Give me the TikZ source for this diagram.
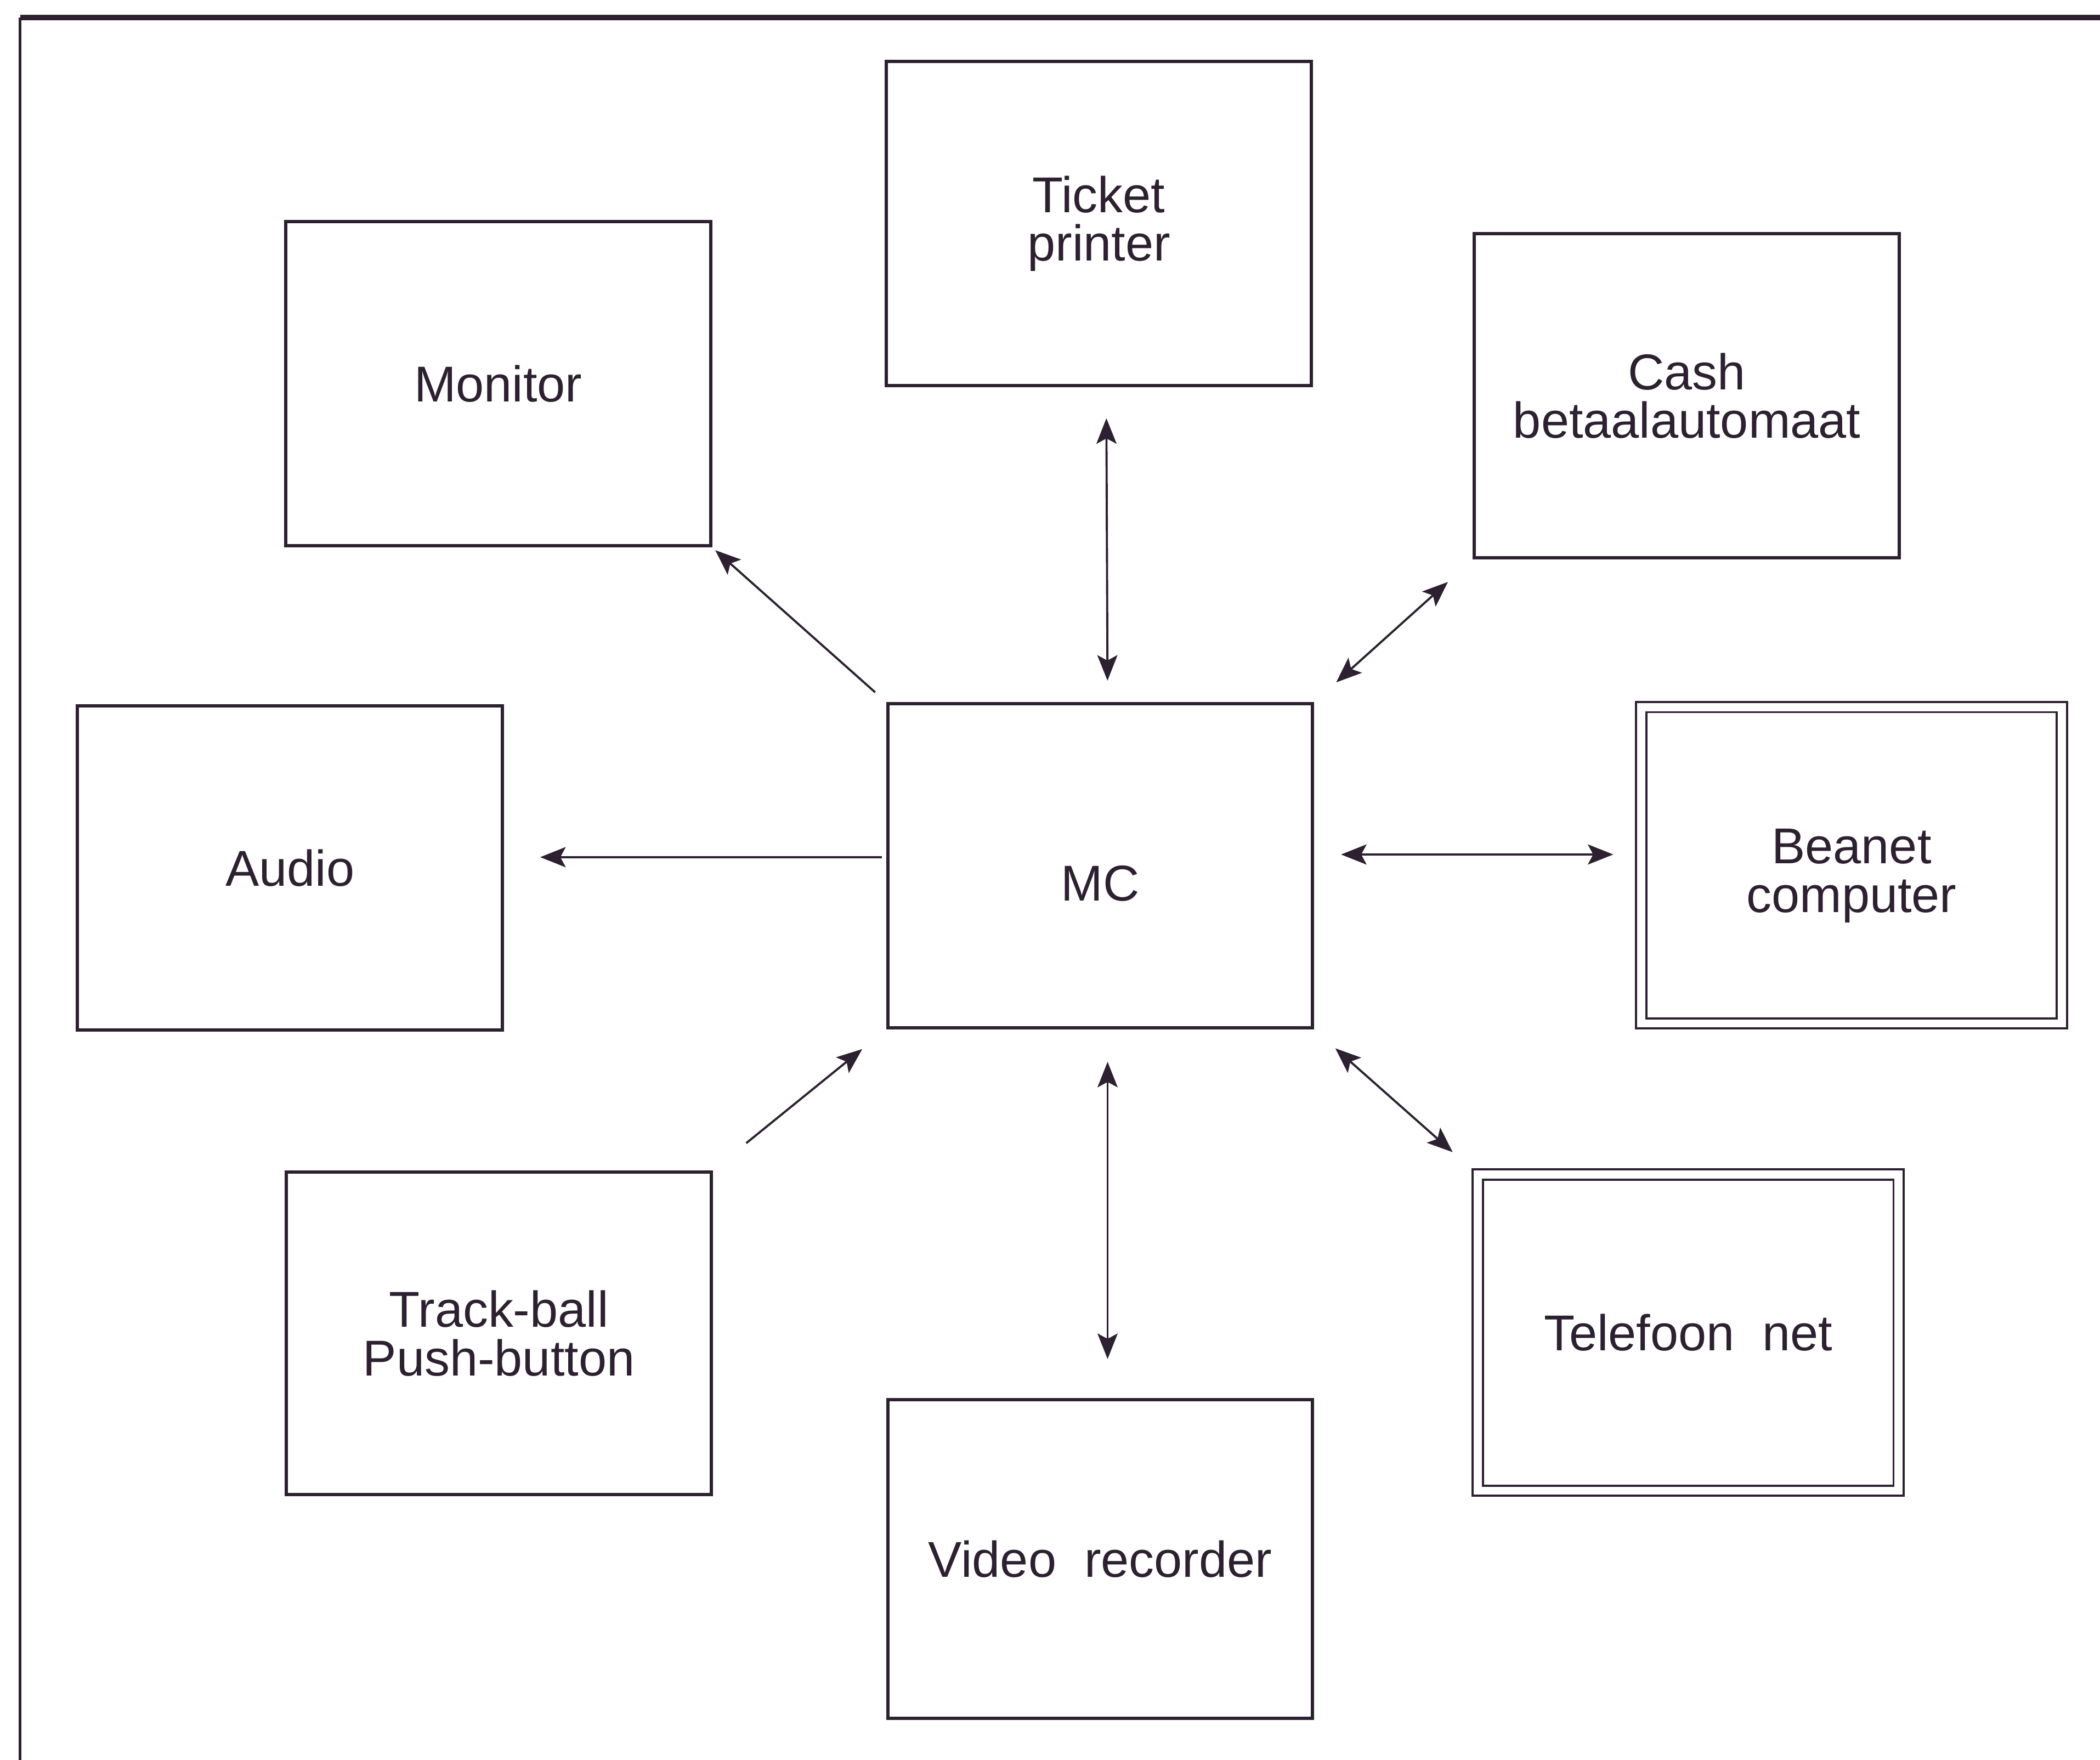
\documentclass[tikz,border=0pt]{standalone}
\usepackage{fontspec}
\setmainfont{Liberation Sans}
\usetikzlibrary{arrows.meta}
\definecolor{ink}{RGB}{45,32,48}
\tikzset{
  tip/.tip={Stealth[length=0.19cm,width=0.15cm,inset=0.04cm]},
  unit/.style={draw=ink, line width=0.7pt, minimum width=3.17cm, minimum height=2.42cm,
    align=center, text=ink, inner sep=0pt, font=\fontsize{10.7}{10.3}\selectfont},
  extunit/.style={unit, double, double distance=0.06cm, line width=0.45pt,
    minimum width=3.14cm, minimum height=2.36cm},
  caption/.style={text=ink, align=center, inner sep=0pt, font=\fontsize{10.7}{10.3}\selectfont},
  link/.style={draw=ink, line width=0.45pt, -tip},
  dlink/.style={link, tip-tip}
}
\begin{document}
\begin{tikzpicture}[x=0.01cm,y=-0.01cm]
\useasboundingbox (0,0) rectangle (1568,1314);
\fill[white] (0,0) rectangle (1568,1314);
\draw[ink, line width=1.2pt] (15,13) -- (1568,13);
\draw[ink, line width=0.5pt] (15,13) -- (15,1314);
\node[unit] (tp) at (820.5,167) {Ticket\\printer};
\node[unit] (mon) at (372,286.5) {Monitor};
\node[unit] (cash) at (1259.5,295.5) {Cash\\betaalautomaat};
\node[unit] (aud) at (216.5,648) {Audio};
\node[unit, label={[caption, yshift=-0.13cm]center:MC}] (mc) at (821.5,646.5) {};
\node[extunit, label={[caption, yshift=-0.08cm]center:Beanet\\computer}] (bnt) at (1382.5,646) {};
\node[unit, minimum height=2.41cm] (tb) at (372.5,995.5) {Track-ball\\Push-button};
\node[unit, minimum height=2.38cm] (vid) at (821.5,1164) {Video~ recorder};
\node[extunit] (tel) at (1260.5,995) {Telefoon~ net};
\draw[dlink, shorten <=0.23cm, shorten >=0.16cm] ([xshift=0.055cm]tp.south) -- ([xshift=0.055cm]mc.north);
\draw[link, shorten <=0.11cm, shorten >=0.03cm] (mc.north west) -- (mon.south east);
\draw[link, shorten <=0.03cm, shorten >=0.27cm] ([yshift=0.065cm]mc.west) -- ([yshift=0.065cm]aud.east |- mc.west);
\draw[link, shorten <=0.32cm, shorten >=0.23cm] (tb.north east) -- (mc.south west);
\draw[dlink, shorten <=0.24cm, shorten >=0.29cm] ([xshift=0.055cm]mc.south) -- ([xshift=0.055cm]vid.north);
\draw[dlink, shorten <=0.22cm, shorten >=0.25cm] (mc.north east) -- (cash.south west);
\draw[dlink, shorten <=0.2cm, shorten >=0.2cm] ([yshift=0.085cm]mc.east) -- ([yshift=0.085cm]bnt.west |- mc.east);
\draw[dlink, shorten <=0.21cm, shorten >=0.24cm] (mc.south east) -- (tel.north west);
\end{tikzpicture}
\end{document}
